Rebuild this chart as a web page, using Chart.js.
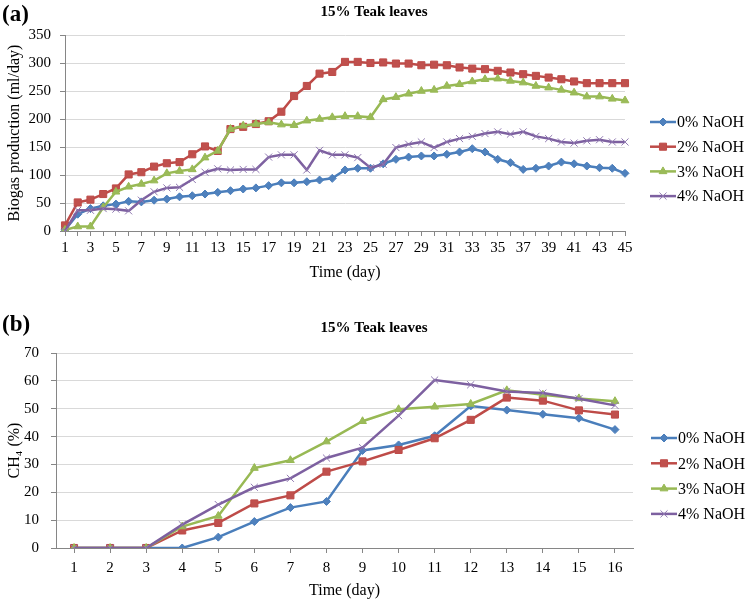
<!DOCTYPE html>
<html><head><meta charset="utf-8">
<script src="https://cdn.jsdelivr.net/npm/chart.js@4.4.1/dist/chart.umd.min.js"></script>
<style>
html,body{margin:0;padding:0;background:#fff;width:749px;height:601px;overflow:hidden}
canvas{position:absolute;left:0}
#c1{top:0}
#c2{top:290px}
</style></head><body>
<canvas id="c1" width="749" height="290"></canvas>
<canvas id="c2" width="749" height="311"></canvas>
<script>
// ---------- data ----------
const seriesNames = ['0% NaOH', '2% NaOH', '3% NaOH', '4% NaOH'];

// (a) Biogas production (ml/day), days 1..45
const daysA = ['1','2','3','4','5','6','7','8','9','10','11','12','13','14','15','16','17','18','19','20','21','22','23','24','25','26','27','28','29','30','31','32','33','34','35','36','37','38','39','40','41','42','43','44','45'];
const biogas0 = [2,30,40,45,48,53,52,55,57,61,63,66,69,72,75,77,81,86,86,88,91,94,109,112,112,120,128,132,134,134,137,141,147,141,128,122,110,112,116,123,120,116,113,112,103];
const biogas2 = [10,51,56,66,76,101,105,115,121,123,137,151,143,182,186,191,196,213,241,259,281,284,302,302,300,301,299,299,296,297,296,292,290,289,286,283,280,277,274,271,267,264,264,264,264];
const biogas3 = [2,8,8,42,70,79,84,90,103,107,110,131,143,182,188,191,194,190,189,197,200,203,205,205,203,235,239,245,250,252,259,262,267,271,272,268,265,259,256,252,247,240,240,236,233];
const biogas4 = [0,37,37,40,39,36,55,70,77,78,92,105,111,109,110,110,132,136,136,109,144,136,136,131,113,119,149,155,159,149,159,165,169,174,177,173,177,169,165,159,157,161,163,159,159];
const yTicksA = [0,50,100,150,200,250,300,350];

// (b) CH4 (%), days 1..16
const daysB = ['1','2','3','4','5','6','7','8','9','10','11','12','13','14','15','16'];
const ch4_0 = [0,0,0,0,3.9,9.5,14.5,16.7,35,37,40.3,51,49.5,48,46.6,42.5];
const ch4_2 = [0,0,0,6.3,9,16,18.9,27.4,31.1,35.2,39.4,46,54,52.9,49.4,47.9];
const ch4_3 = [0,0,0,7.7,11.5,28.7,31.5,38.2,45.5,49.8,50.7,51.7,56.6,55,53.7,52.7];
const ch4_4 = [0,0,0,8.4,15.6,21.8,25,32.3,36,47.5,60.3,58.6,56.2,55.6,53.6,51.2];
const yTicksB = [0,10,20,30,40,50,60,70];

// ---------- styles ----------
const FONT = '"Liberation Serif", "Times New Roman", serif';
const lineColors = ['#4A7EBB', '#BE4B48', '#98B954', '#7D60A0'];
const markColors = ['#4F81BD', '#C0504D', '#9BBB59', '#8064A2'];
const markStyles = ['rectRot', 'rect', 'triangle', 'crossRot'];
const markRadius = [4, 5, 4.5, 5];

function makeDatasets(arrays) {
  return arrays.map((d, i) => ({
    label: seriesNames[i],
    data: d,
    borderColor: lineColors[i],
    backgroundColor: markColors[i],
    borderWidth: 2.5,
    pointStyle: markStyles[i],
    pointRadius: markRadius[i],
    pointBackgroundColor: markColors[i],
    pointBorderColor: i === 3 ? '#8f78b0' : lineColors[i],
    pointBorderWidth: 1,
    tension: 0,
    fill: false,
    order: 4 - i
  }));
}

const legendPlugin = {
  id: 'customLegend',
  afterDraw(chart, args, opts) {
    const ctx = chart.ctx;
    ctx.save();
    chart.data.datasets.forEach((ds, i) => {
      const y = opts.y0 + i * opts.dy;
      ctx.strokeStyle = ds.borderColor;
      ctx.lineWidth = ds.borderWidth;
      ctx.beginPath();
      ctx.moveTo(opts.x0, y);
      ctx.lineTo(opts.x0 + opts.len, y);
      ctx.stroke();
      ctx.fillStyle = ds.pointBackgroundColor;
      ctx.strokeStyle = ds.pointBorderColor;
      ctx.lineWidth = ds.pointBorderWidth;
      Chart.helpers.drawPoint(ctx, {pointStyle: ds.pointStyle, radius: ds.pointRadius, rotation: 0, borderWidth: ds.pointBorderWidth}, opts.x0 + opts.len / 2, y);
      ctx.fillStyle = '#000';
      ctx.font = '16px ' + FONT;
      ctx.textAlign = 'left';
      ctx.textBaseline = 'middle';
      ctx.fillText(ds.label, opts.x0 + opts.len + 1, y + 1);
    });
    ctx.restore();
  }
};

const textPlugin = {
  id: 'panelText',
  afterDraw(chart, args, opts) {
    const ctx = chart.ctx;
    ctx.save();
    ctx.fillStyle = '#000';
    ctx.textBaseline = 'middle';
    ctx.textAlign = 'left';
    ctx.font = 'bold 23px ' + FONT;
    ctx.fillText(opts.letter, 2, opts.letterY);
    ctx.textAlign = 'center';
    ctx.font = 'bold 15px ' + FONT;
    ctx.fillText(opts.title, 374, opts.titleY);
    ctx.restore();
  }
};

function makeChart(id, cfg) {
  return new Chart(document.getElementById(id), {
    type: 'line',
    data: { labels: cfg.labels, datasets: makeDatasets(cfg.series) },
    plugins: [legendPlugin, textPlugin],
    options: {
      responsive: false,
      animation: false,
      devicePixelRatio: 1,
      layout: { padding: { left: 0, top: cfg.padTop, right: cfg.padRight, bottom: 0 } },
      plugins: {
        legend: { display: false },
        tooltip: { enabled: false },
        customLegend: cfg.legend,
        panelText: cfg.text
      },
      scales: {
        x: {
          type: 'category',
          offset: cfg.offset,
          afterFit: s => { s.height = cfg.xHeight; },
          grid: { display: true, drawOnChartArea: false, drawTicks: true, tickLength: 5, tickColor: '#868686', offset: false },
          border: { display: true, color: '#868686', width: 1 },
          ticks: {
            autoSkip: false, maxRotation: 0, minRotation: 0,
            padding: cfg.xPad,
            color: '#000',
            font: { family: FONT, size: 15 },
            callback: function(v, i) { return (i % cfg.labelEvery === 0) ? this.getLabelForValue(v) : ''; }
          },
          title: { display: true, text: 'Time (day)', color: '#000', font: { family: FONT, size: 16 }, padding: { top: 0, bottom: cfg.xTitlePad } }
        },
        y: {
          min: cfg.yTicks[0],
          max: cfg.yTicks[cfg.yTicks.length - 1],
          afterFit: s => { s.width = cfg.yWidth; },
          afterBuildTicks: s => { s.ticks = cfg.yTicks.map(v => ({ value: v })); },
          grid: { color: '#d9d9d9', lineWidth: 1, drawTicks: true, tickLength: 5, tickColor: '#868686' },
          border: { display: true, color: '#868686', width: 1 },
          ticks: { padding: cfg.yPad, color: '#000', font: { family: FONT, size: 15 } },
          title: { display: true, text: cfg.yTitle, color: '#000', font: { family: FONT, size: 16 }, padding: { top: 5, bottom: 0 } }
        }
      }
    }
  });
}

makeChart('c1', {
  labels: daysA,
  series: [biogas0, biogas2, biogas3, biogas4],
  yTicks: yTicksA,
  padTop: 35, padRight: 124, xHeight: 59, yWidth: 65,
  offset: false, labelEvery: 2, xPad: 3, yPad: 9, xTitlePad: 8,
  yTitle: 'Biogas production (ml/day)',
  legend: { x0: 650, len: 26, y0: 122, dy: 24.7 },
  text: { letter: '(a)', letterY: 15, title: '15% Teak leaves', titleY: 12 }
});

makeChart('c2', {
  labels: daysB,
  series: [ch4_0, ch4_2, ch4_3, ch4_4],
  yTicks: yTicksB,
  padTop: 63, padRight: 116, xHeight: 53, yWidth: 56,
  offset: true, labelEvery: 1, xPad: 6, yPad: 12, xTitlePad: 1,
  yTitle: 'CH\u2084 (%)',
  legend: { x0: 651, len: 26, y0: 148, dy: 25.3 },
  text: { letter: '(b)', letterY: 35, title: '15% Teak leaves', titleY: 38 }
});
</script>
</body></html>
